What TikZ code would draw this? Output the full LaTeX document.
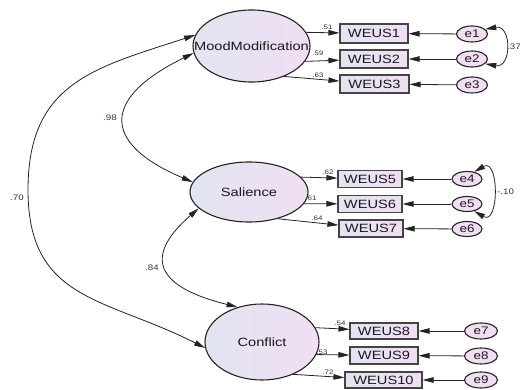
\documentclass[tikz,border=0pt]{standalone}
\usepackage{fontspec}
\newfontfamily\amosfont[FakeStretch=1.22]{Liberation Sans}
\usetikzlibrary{shapes.geometric,arrows.meta}
\definecolor{lavA}{RGB}{226,228,242}
\definecolor{lavB}{RGB}{241,222,243}
\definecolor{amosline}{RGB}{35,35,35}

\begin{document}
\begin{tikzpicture}[x=1pt,y=1pt,
  >={Triangle[length=11pt,width=5.5pt]},
  latent/.style={ellipse,draw=amosline,line width=1.1pt,left color=lavA,right color=lavB,inner sep=0pt,text=black!90,font=\amosfont\fontsize{12}{14}\selectfont},
  item/.style={rectangle,draw=amosline!85,line width=1.1pt,left color=lavA,right color=lavB,inner sep=0pt,text=black!90,font=\amosfont\fontsize{12}{14}\selectfont},
  err/.style={ellipse,draw=amosline,line width=1.1pt,fill=lavB,inner sep=0pt,text=black!90,font=\amosfont\fontsize{11}{13}\selectfont},
  load/.style={inner sep=0pt,text=black!80,font=\amosfont\fontsize{6.5}{7}\selectfont},
  corr/.style={inner sep=0pt,text=black!80,font=\amosfont\fontsize{8}{9}\selectfont},
  reg/.style={->,draw=amosline,line width=0.8pt},
  cov/.style={<->,draw=amosline,line width=0.8pt}]
  \path[use as bounding box,fill=white] (0,0) rectangle (520,389);

  % Latent factors
  \node[latent,minimum width=117pt,minimum height=72pt] (mood) at (251.5,343) {\makebox[0pt]{MoodModification}};
  \node[latent,minimum width=118pt,minimum height=60pt] (sal) at (249,197) {\makebox[0pt]{Salience}};
  \node[latent,minimum width=114pt,minimum height=76pt] (conf) at (262,47) {\makebox[0pt]{Conflict}};

  % Observed items
  \node[item,minimum width=68pt,minimum height=19pt] (w1) at (374,355.5) {WEUS1};
  \node[item,minimum width=68pt,minimum height=18pt] (w2) at (374,330) {WEUS2};
  \node[item,minimum width=69pt,minimum height=18pt] (w3) at (374.5,305) {WEUS3};
  \node[item,minimum width=64pt,minimum height=17pt] (w5) at (370,210) {WEUS5};
  \node[item,minimum width=64pt,minimum height=17pt] (w6) at (370,185) {WEUS6};
  \node[item,minimum width=64pt,minimum height=17pt] (w7) at (371,160.5) {WEUS7};
  \node[item,minimum width=68pt,minimum height=16pt] (w8) at (384,58) {WEUS8};
  \node[item,minimum width=68pt,minimum height=17pt] (w9) at (384,33.5) {WEUS9};
  \node[item,minimum width=77pt,minimum height=16pt] (w10) at (383.5,9) {WEUS10};

  % Error terms
  \node[err,minimum width=31pt,minimum height=16pt] (e1) at (472,355) {e1};
  \node[err,minimum width=31pt,minimum height=16pt] (e2) at (472,330) {e2};
  \node[err,minimum width=31pt,minimum height=16pt] (e3) at (472,304) {e3};
  \node[err,minimum width=30pt,minimum height=15pt] (e4) at (467,210) {e4};
  \node[err,minimum width=30pt,minimum height=15pt] (e5) at (467,185) {e5};
  \node[err,minimum width=30pt,minimum height=15pt] (e6) at (467,160) {e6};
  \node[err,minimum width=33pt,minimum height=16pt] (e7) at (481,58) {e7};
  \node[err,minimum width=33pt,minimum height=16pt] (e8) at (481,33) {e8};
  \node[err,minimum width=33pt,minimum height=16pt] (e9) at (481,9) {e9};

  % Loadings
  \draw[reg] (mood.14) -- (w1);
  \draw[reg] (mood.-16) -- (w2);
  \draw[reg] (mood.-43) -- (w3);
  \draw[reg] (sal.16) -- (w5);
  \draw[reg] (sal.-12) -- (w6);
  \draw[reg] (sal.-43) -- (w7);
  \draw[reg] (conf.15) -- (w8);
  \draw[reg] (conf.-13) -- (w9);
  \draw[reg] (conf.-46) -- (w10);

  % Errors into items
  \draw[reg] (e1) -- (w1);
  \draw[reg] (e2) -- (w2);
  \draw[reg] (e3) -- (w3);
  \draw[reg] (e4) -- (w5);
  \draw[reg] (e5) -- (w6);
  \draw[reg] (e6) -- (w7);
  \draw[reg] (e7) -- (w8);
  \draw[reg] (e8) -- (w9);
  \draw[reg] (e9) -- (w10);

  % Error covariances
  \draw[cov] (e1.20) to[out=10,in=-10,looseness=2] (e2.-20);
  \draw[cov] (e4.45) to[out=30,in=-30,looseness=1.9] (e5.-45);
  \node[corr,anchor=west] (c12) at (507,342) {.37};
  \node[corr,anchor=west] (c45) at (497,197) {-.10};

  % Factor covariances
  \coordinate (lft) at (28,199);
  \draw[cov] (mood.187) to[out=206,in=157,looseness=2] (sal.170);
  \draw[cov] (sal.198) to[out=221,in=166,looseness=1.9] (conf.125);
  \draw[cov] (mood.169) to[out=198,in=90,looseness=1.2] (lft) to[out=-90,in=153,looseness=1.2] (conf.186);
  \node[corr] (cms) at (110,271) {.98};
  \node[corr] (csc) at (152,121) {.84};
  \node[corr] (cmc) at (17,191) {.70};

  % Loading values
  \node[load] (l1) at (327,362) {.51};
  \node[load] (l2) at (318,336) {.59};
  \node[load] (l3) at (318,314) {.63};
  \node[load] (l5) at (328,217) {.62};
  \node[load] (l6) at (311,191) {.61};
  \node[load] (l7) at (317,171) {.64};
  \node[load] (l8) at (340,66) {.54};
  \node[load] (l9) at (322,37) {.53};
  \node[load] (l10) at (328,17) {.72};
\end{tikzpicture}
\end{document}
